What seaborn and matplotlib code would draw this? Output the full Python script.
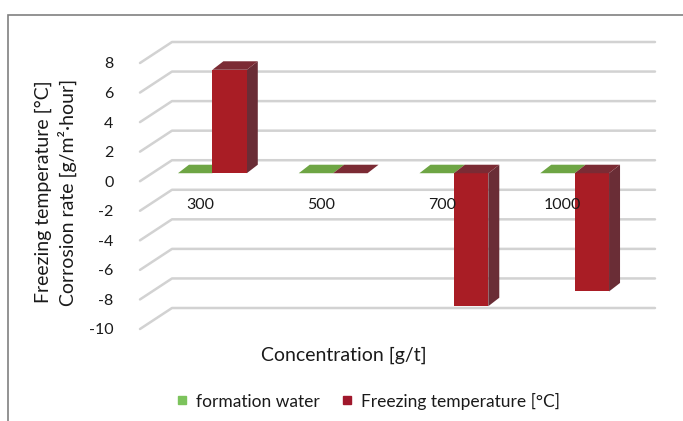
import matplotlib
matplotlib.use("Agg")
import matplotlib.pyplot as plt
from matplotlib.patches import Polygon, Rectangle
from matplotlib.lines import Line2D
import numpy as np
import pandas as pd
import seaborn as sns

# ---- data -------------------------------------------------------------
concentrations = ["300", "500", "700", "1000"]
formation_water = [0, 0, 0, 0]
freezing_temperature = [7, 0, -9, -8]
series_names = ["formation water", "Freezing temperature [°C]"]
y_ticks = [8, 6, 4, 2, 0, -2, -4, -6, -8, -10]

df = pd.DataFrame({
    "Concentration": concentrations * 2,
    "value": formation_water + freezing_temperature,
    "series": [series_names[0]] * len(concentrations)
              + [series_names[1]] * len(concentrations),
})

# ---- style ------------------------------------------------------------
sns.set_theme(style="white")
plt.rcParams["font.family"] = ["Lato", "DejaVu Sans"]
TXT = "#1a1a1a"
FS_TICK = 11.5
FS_LEG = 12.5
FS_TITLE = 14

# face colours: front, side, top
GREEN = {"front": "#6fa545", "side": "#4f7a32", "top": "#6ea544"}
RED = {"front": "#a91d25", "side": "#6a2d36", "top": "#7b2b34"}
LEG_GREEN = "#7cc35c"
LEG_RED = "#a0182c"
GRID = "#d2d2d2"

W, H = 683, 421
fig = plt.figure(figsize=(W / 100, H / 100), dpi=100)
fig.patch.set_facecolor("white")

# front plane of the pseudo-3D plot box
ax = fig.add_axes([140 / W, 92 / H, 483 / W, 266 / H])
sns.barplot(data=df, x="Concentration", y="value", hue="series",
            order=concentrations, hue_order=series_names,
            palette=[GREEN["front"], RED["front"]], saturation=1,
            width=0.57, errorbar=None, legend=False, ax=ax, zorder=3)
ax.set_xlim(-0.5, 3.5)
ax.set_ylim(-10, 8)
ax.set_facecolor("none")
for s in ax.spines.values():
    s.set_visible(False)
ax.grid(False)

to_disp = ax.transData.transform
to_data = ax.transData.inverted().transform

def shifted(x, y, dx, dy):
    px, py = to_disp((x, y))
    return to_data((px + dx, py + dy))

# depth offsets in pixels (right, up)
WALL = (32, 21)      # front plane -> back wall
BAR_FRONT = (12, 8)  # front plane -> bar front faces
BAR_DEPTH = (11, 8.5)

# ---- gridlines on the side wall and back wall -------------------------
for v in y_ticks:
    p0 = shifted(-0.5, v, 0, 0)
    p1 = shifted(-0.5, v, *WALL)
    p2 = shifted(3.5, v, *WALL)
    ax.add_line(Line2D([p0[0], p1[0], p2[0]], [p0[1], p1[1], p2[1]],
                       color=GRID, lw=1.8, clip_on=False, zorder=1,
                       solid_joinstyle="round"))

# ---- bars: move front faces back and add top / side faces --------------
bars = [p for p in ax.patches if isinstance(p, Rectangle)]
faces = []
for i, bar in enumerate(bars):
    colors = GREEN if i < len(concentrations) else RED
    x0, w = bar.get_x(), bar.get_width()
    y0, h = bar.get_y(), bar.get_height()
    lo, hi = min(y0, y0 + h), max(y0, y0 + h)
    fx, fy = BAR_FRONT
    bx, by = fx + BAR_DEPTH[0], fy + BAR_DEPTH[1]
    front = [shifted(x0, lo, fx, fy), shifted(x0 + w, lo, fx, fy),
             shifted(x0 + w, hi, fx, fy), shifted(x0, hi, fx, fy)]
    top = [shifted(x0, hi, fx, fy), shifted(x0 + w, hi, fx, fy),
           shifted(x0 + w, hi, bx, by), shifted(x0, hi, bx, by)]
    side = [shifted(x0 + w, lo, fx, fy), shifted(x0 + w, lo, bx, by),
            shifted(x0 + w, hi, bx, by), shifted(x0 + w, hi, fx, fy)]
    bar.set_visible(False)
    z = 3 + i * 0.01
    if hi - lo > 0:
        faces.append(Polygon(side, closed=True, fc=colors["side"], ec="none",
                             zorder=z, clip_on=False))
        faces.append(Polygon(front, closed=True, fc=colors["front"], ec="none",
                             zorder=z + 0.001, clip_on=False))
    faces.append(Polygon(top, closed=True, fc=colors["top"], ec="none",
                         zorder=z + 0.002, clip_on=False))
for f in faces:
    ax.add_patch(f)

# ---- axes text ----------------------------------------------------------
ax.set_yticks(y_ticks)
ax.set_yticklabels([str(v) for v in y_ticks])
ax.tick_params(axis="y", length=0, pad=19, labelsize=FS_TICK, labelcolor=TXT)

ax.spines["bottom"].set_position(("data", 0))
ax.set_xticks(range(len(concentrations)))
ax.set_xticklabels(concentrations)
ax.tick_params(axis="x", length=0, pad=12, labelsize=FS_TICK, labelcolor=TXT)
ax.xaxis.set_zorder(10)  # category labels sit in front of the bars

ax.set_xlabel("Concentration [g/t]", fontsize=FS_TITLE, color=TXT)
ax.xaxis.set_label_coords(0.422, -0.098)
ax.xaxis.label.set_va("center")

ax.set_ylabel("Freezing temperature [°C]\nCorrosion rate [g/m²·hour]",
              fontsize=FS_TITLE, color=TXT, linespacing=1.35)
ax.yaxis.set_label_coords(-0.175, 0.515)
ax.yaxis.label.set_va("center")

# ---- legend -------------------------------------------------------------
handles = [Line2D([], [], marker="s", linestyle="none", markersize=6,
                  color=c) for c in (LEG_GREEN, LEG_RED)]
fig.legend(handles, series_names, loc="center", bbox_to_anchor=(368 / W, 20 / H),
           ncol=2, frameon=False, fontsize=FS_LEG, handlelength=0.7,
           handletextpad=0.45, columnspacing=1.2, labelcolor=TXT)

# ---- outer chart frame ----------------------------------------------------
fig.patches.append(Rectangle((8 / W, -0.2), 1.2, 1.2 - 15 / H,
                             transform=fig.transFigure, fill=False,
                             edgecolor="#808080", lw=1.2))

fig.savefig("out.png", dpi=100)
